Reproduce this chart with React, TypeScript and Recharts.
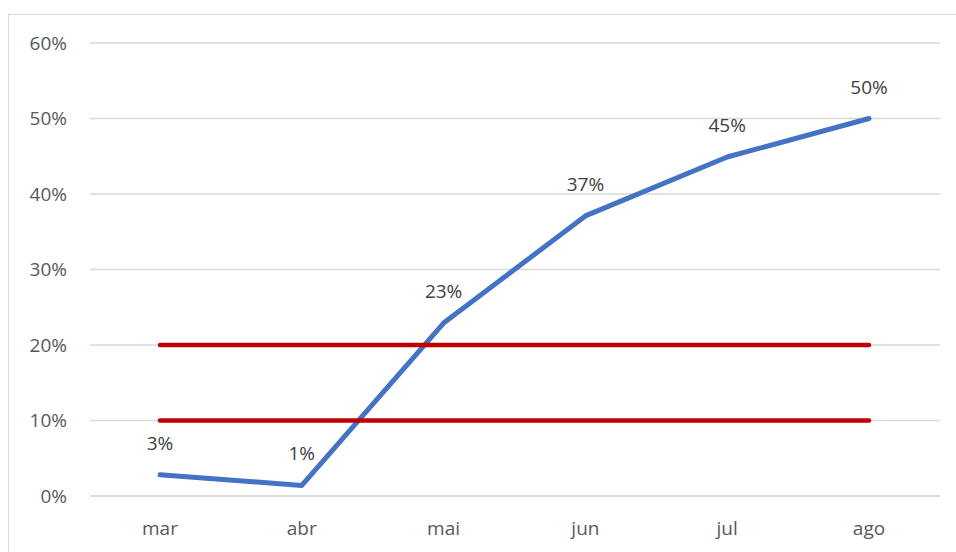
import React from "react";
import { LineChart, Line, XAxis, YAxis, CartesianGrid, LabelList } from "recharts";

const months = ["mar", "abr", "mai", "jun", "jul", "ago"];
const values = [0.028, 0.014, 0.229, 0.371, 0.449, 0.5];
const lowerLimit = [0.1, 0.1, 0.1, 0.1, 0.1, 0.1];
const upperLimit = [0.2, 0.2, 0.2, 0.2, 0.2, 0.2];
const yTicks = [0, 0.1, 0.2, 0.3, 0.4, 0.5, 0.6];

const data = months.map((m, i) => ({
  month: m,
  value: values[i],
  lower: lowerLimit[i],
  upper: upperLimit[i],
}));

const pct = (v: number) => `${Math.round(v * 100)}%`;

const FONT = "'Open Sans', 'DejaVu Sans', sans-serif";

const renderLabel = (props: any) => {
  const { x, y, value } = props;
  return (
    <text
      x={x}
      y={y - 32}
      textAnchor="middle"
      dominantBaseline="central"
      fill="#404040"
      fontSize={19}
      fontFamily={FONT}
    >
      {pct(value)}
    </text>
  );
};

export default function App() {
  return (
    <div style={{ position: "absolute", left: 0, top: 0, width: 956, height: 552, background: "#fff", overflow: "hidden" }}>
      <div
        style={{
          position: "absolute",
          left: 8,
          top: 14,
          width: 960,
          height: 600,
          border: "1px solid #d9d9d9",
          boxSizing: "border-box",
        }}
      />
      <div style={{ position: "absolute", left: 0, top: 0 }}>
        <LineChart
          width={956}
          height={552}
          data={data}
          margin={{ top: 43, right: 16, bottom: 26, left: 0 }}
        >
          <CartesianGrid vertical={false} stroke="#d9d9d9" strokeWidth={1.3} />
          <XAxis
            dataKey="month"
            padding={{ left: 70, right: 71 }}
            axisLine={{ stroke: "#d9d9d9", strokeWidth: 1.3 }}
            tickLine={false}
            tickSize={0}
            tickMargin={26}
            tick={{ fill: "#595959", fontSize: 19, fontFamily: FONT }}
          />
          <YAxis
            width={90}
            domain={[0, 0.6]}
            ticks={yTicks}
            tickFormatter={pct}
            axisLine={false}
            tickLine={false}
            tickSize={0}
            tickMargin={23}
            tick={{ fill: "#595959", fontSize: 19, fontFamily: FONT }}
          />
          <Line
            dataKey="value"
            stroke="#4472c4"
            strokeWidth={5}
            strokeLinecap="round"
            strokeLinejoin="round"
            dot={false}
            isAnimationActive={false}
          >
            <LabelList dataKey="value" content={renderLabel} />
          </Line>
          <Line
            dataKey="lower"
            stroke="#c00000"
            strokeWidth={4.5}
            strokeLinecap="round"
            dot={false}
            isAnimationActive={false}
          />
          <Line
            dataKey="upper"
            stroke="#c00000"
            strokeWidth={4.5}
            strokeLinecap="round"
            dot={false}
            isAnimationActive={false}
          />
        </LineChart>
      </div>
    </div>
  );
}
